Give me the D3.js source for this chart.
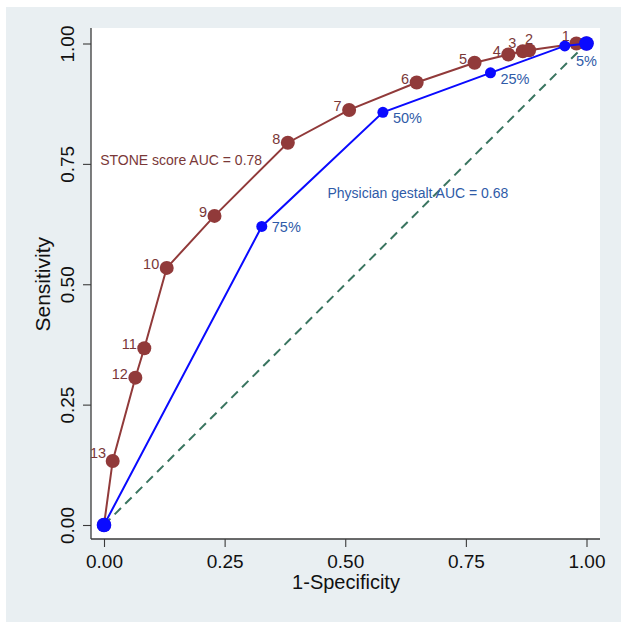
<!DOCTYPE html>
<html>
<head>
<meta charset="utf-8">
<script src="https://cdn.jsdelivr.net/npm/d3@7"></script>
<style>
  html, body { margin: 0; padding: 0; background: #ffffff; }
  svg { display: block; font-family: "Liberation Sans", Arial, Helvetica, sans-serif; }
</style>
</head>
<body>
<div id="chart"></div>
<script>
// ---- data ----
const stoneFPR  = [0, 0.018, 0.065, 0.0835, 0.130, 0.229, 0.381, 0.508, 0.648, 0.768, 0.838, 0.868, 0.881, 0.979, 1];
const stoneSens = [0, 0.133, 0.306, 0.367, 0.534, 0.642, 0.794, 0.862, 0.919, 0.960, 0.977, 0.984, 0.986, 1.0, 1];
const stoneLabels = ["", "13", "12", "11", "10", "9", "8", "7", "6", "5", "4", "3", "2", "1", ""];
// marker-label clock positions (Stata style)
const stoneLabelPos = [0, 11, 10, 10, 10, 10, 10, 10, 10, 10, 10, 11, 12, 11, 0];

const physFPR  = [0, 0.327, 0.578, 0.801, 0.955, 1];
const physSens = [0, 0.620, 0.857, 0.939, 0.995, 1];
const physLabels = ["", "75%", "50%", "25%", "", "5%"];
const physLabelPos = [0, 3, 4, 4, 0, 6];

const xTicks = [0, 0.25, 0.5, 0.75, 1];
const yTicks = [0, 0.25, 0.5, 0.75, 1];
const xTickLabels = ["0.00", "0.25", "0.50", "0.75", "1.00"];
const yTickLabels = ["0.00", "0.25", "0.50", "0.75", "1.00"];

const stoneText = "STONE score AUC = 0.78";
const physText = "Physician gestalt AUC = 0.68";
const xTitle = "1-Specificity";
const yTitle = "Sensitivity";

// ---- layout ----
const W = 629, H = 630;
const plot = { left: 91, right: 600, top: 28, bottom: 539 };
const brown = "#913a3a", brownText = "#7a3838";
const blue = "#0a0aff", blueText = "#2f5ba8";
const green = "#3a7560";
const axisColor = "#3a3a3a";

const svg = d3.select("#chart").append("svg").attr("width", W).attr("height", H);

svg.append("rect").attr("x", 6).attr("y", 7).attr("width", 615).attr("height", 615).attr("fill", "#e9eff2");
svg.append("rect").attr("x", plot.left).attr("y", plot.top)
  .attr("width", plot.right - plot.left).attr("height", plot.bottom - plot.top).attr("fill", "#ffffff");

const x = d3.scaleLinear().domain([0, 1]).range([104, 586.5]);
const y = d3.scaleLinear().domain([0, 1]).range([525, 43.5]);

// axes
const xAxis = d3.axisBottom(x).tickValues(xTicks).tickFormat((d, i) => xTickLabels[i]).tickSize(8).tickSizeOuter(0);
const gx = svg.append("g").attr("transform", `translate(0,${plot.bottom})`).call(xAxis);
gx.select(".domain").attr("d", `M${plot.left},0H${plot.right}`).attr("stroke", axisColor).attr("stroke-width", 1.3);
gx.selectAll(".tick line").attr("stroke", axisColor).attr("stroke-width", 1.1);
gx.selectAll(".tick text").attr("font-size", 19).attr("fill", "#111").attr("y", 0)
  .attr("dy", null).attr("dominant-baseline", "alphabetic").attr("transform", "translate(0,29)")
  .attr("font-family", "Liberation Sans, Arial, sans-serif");

const yAxis = d3.axisLeft(y).tickValues(yTicks).tickFormat((d, i) => yTickLabels[i]).tickSize(8).tickSizeOuter(0);
const gy = svg.append("g").attr("transform", `translate(${plot.left},0)`).call(yAxis);
gy.select(".domain").attr("d", `M0,${plot.top}V${plot.bottom}`).attr("stroke", axisColor).attr("stroke-width", 1.3);
gy.selectAll(".tick line").attr("stroke", axisColor).attr("stroke-width", 1.1);
gy.selectAll(".tick text").attr("font-size", 19).attr("fill", "#111")
  .attr("x", null).attr("dy", null).attr("text-anchor", "middle")
  .attr("transform", "translate(-17,0) rotate(-90)")
  .attr("font-family", "Liberation Sans, Arial, sans-serif");

// titles
svg.append("text").attr("x", (plot.left + plot.right) / 2 + 0.5).attr("y", 589)
  .attr("text-anchor", "middle").attr("font-size", 20).attr("fill", "#111").text(xTitle);
svg.append("text").attr("transform", `translate(50,${y(0.5)}) rotate(-90)`)
  .attr("text-anchor", "middle").attr("font-size", 21).attr("fill", "#111").text(yTitle);

// reference diagonal
svg.append("line").attr("x1", x(0)).attr("y1", y(0)).attr("x2", x(1)).attr("y2", y(1))
  .attr("stroke", green).attr("stroke-width", 2).attr("stroke-dasharray", "9,6");

const line = d3.line().x(d => x(d[0])).y(d => y(d[1]));
const stone = stoneFPR.map((v, i) => ({ fx: v, s: stoneSens[i], lab: stoneLabels[i], pos: stoneLabelPos[i] }));
const phys = physFPR.map((v, i) => ({ fx: v, s: physSens[i], lab: physLabels[i], pos: physLabelPos[i] }));

// clock position -> offset/anchor
const clock = {
  3:  { dx: 10,   dy: 6,   anchor: "start" },
  4:  { dx: 10,   dy: 11,  anchor: "start" },
  6:  { dx: 0,    dy: 22,  anchor: "middle" },
  10: { dx: -7.5, dy: 1,   anchor: "end" },
  11: { dx: -6.5, dy: -3,  anchor: "end" },
  12: { dx: 0,    dy: -6,  anchor: "middle" }
};

// STONE
svg.append("path").datum(stone).attr("d", line.x(d => x(d.fx)).y(d => y(d.s)))
  .attr("fill", "none").attr("stroke", brown).attr("stroke-width", 2);
svg.selectAll(".sm").data(stone).enter().append("circle")
  .attr("cx", d => x(d.fx)).attr("cy", d => y(d.s)).attr("r", 7).attr("fill", brown);
svg.selectAll(".sl").data(stone.filter(d => d.lab !== "")).enter().append("text")
  .attr("x", d => x(d.fx) + clock[d.pos].dx).attr("y", d => y(d.s) + clock[d.pos].dy)
  .attr("text-anchor", d => clock[d.pos].anchor).attr("font-size", 14.5).attr("fill", brownText).text(d => d.lab);

// Physician
svg.append("path").datum(phys).attr("d", line.x(d => x(d.fx)).y(d => y(d.s)))
  .attr("fill", "none").attr("stroke", blue).attr("stroke-width", 2);
svg.selectAll(".pm").data(phys).enter().append("circle")
  .attr("cx", d => x(d.fx)).attr("cy", d => y(d.s))
  .attr("r", (d, i) => (i === 0 || i === phys.length - 1) ? 7.3 : 5.5).attr("fill", blue);
svg.selectAll(".pl").data(phys.filter(d => d.lab !== "")).enter().append("text")
  .attr("x", d => x(d.fx) + clock[d.pos].dx).attr("y", d => y(d.s) + clock[d.pos].dy)
  .attr("text-anchor", d => clock[d.pos].anchor)
  .attr("font-size", 14.5).attr("fill", blueText).text(d => d.lab);

// annotations
svg.append("text").attr("x", x(-0.008)).attr("y", y(0.758) + 5)
  .attr("font-size", 14).attr("fill", brownText).text(stoneText);
svg.append("text").attr("x", x(0.463)).attr("y", y(0.689) + 5)
  .attr("font-size", 14).attr("fill", blueText).text(physText);
</script>
</body>
</html>
